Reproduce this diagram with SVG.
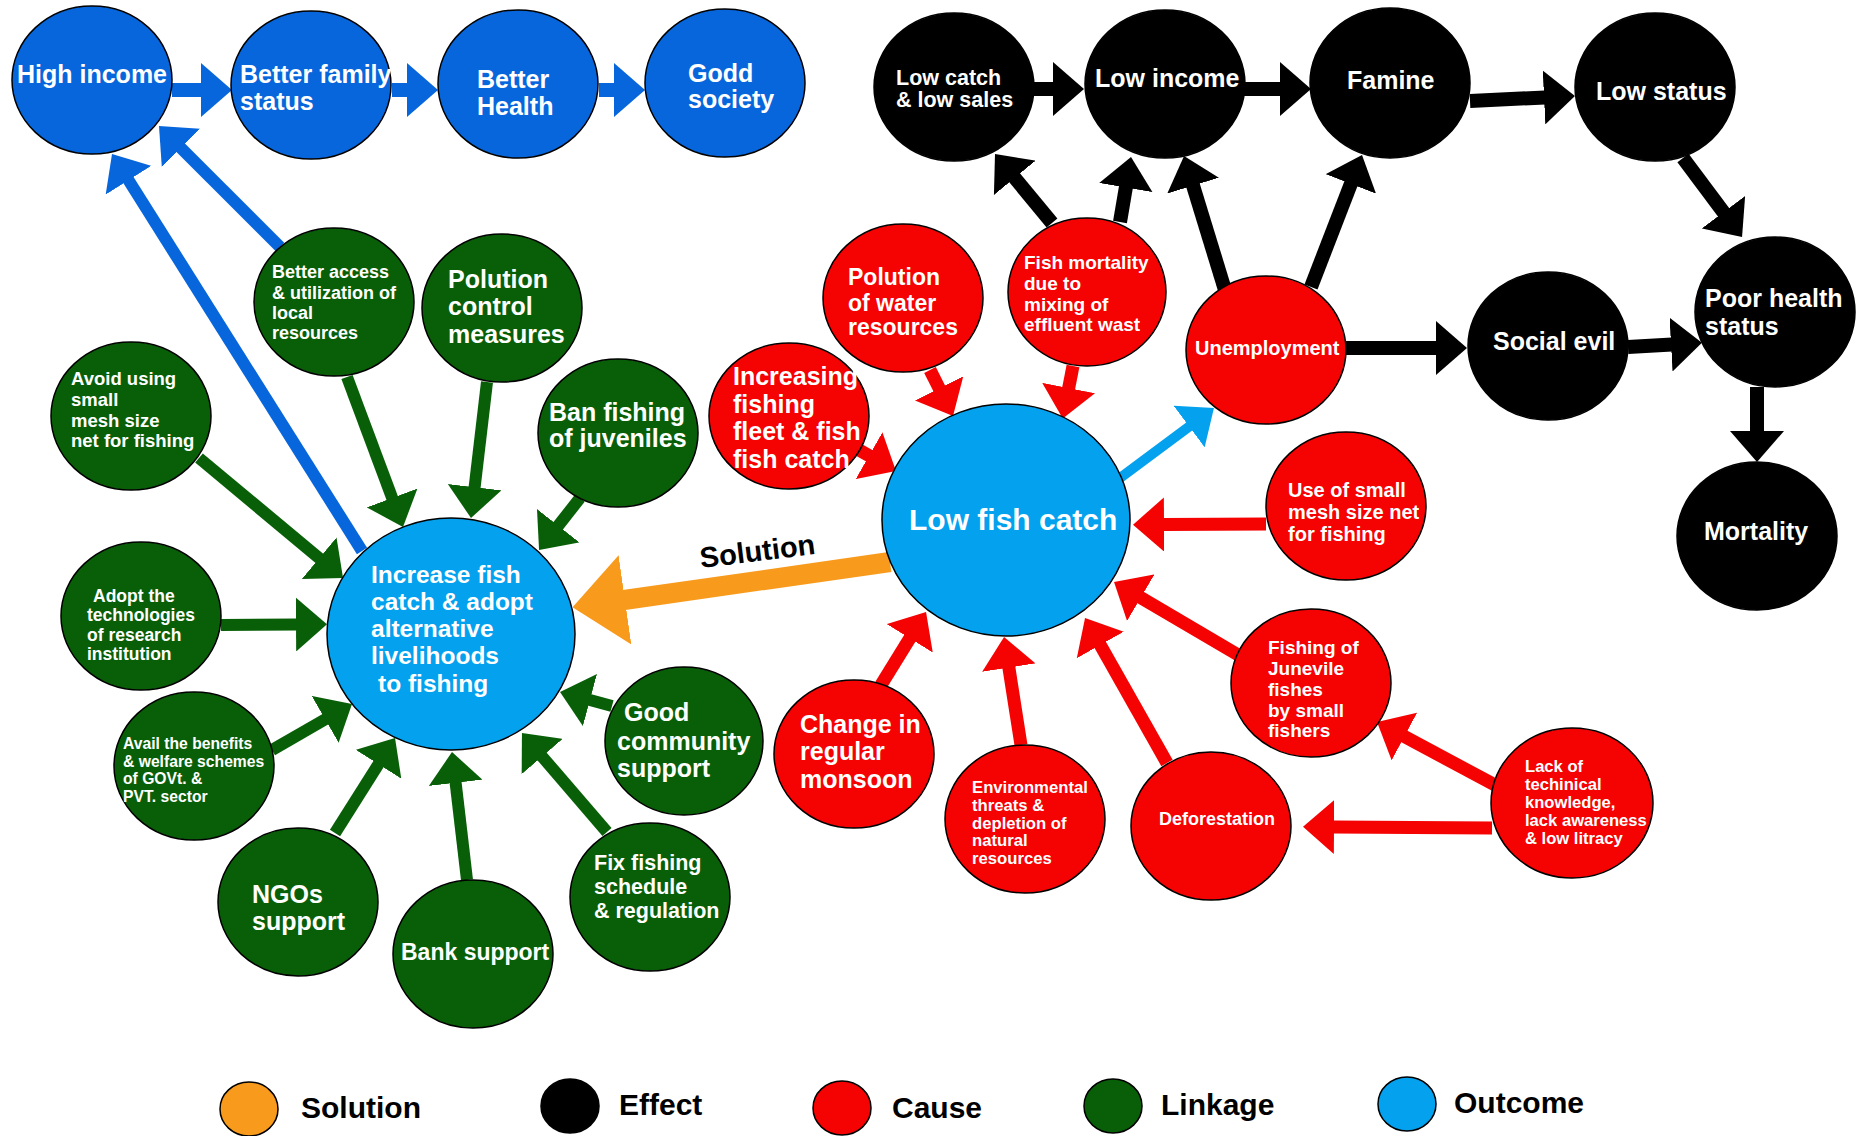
<svg xmlns="http://www.w3.org/2000/svg" width="1860" height="1136" viewBox="0 0 1860 1136">
<style>
.n{stroke:#000;stroke-width:1.5}
.db{fill:#0866dc}.lb{fill:#04a1ee}.gr{fill:#085f08}.rd{fill:#f50202}.bk{fill:#000}.or{fill:#f89a1c}
text{font-family:"Liberation Sans",Arial,Helvetica,sans-serif;font-weight:bold;fill:#fff}
.lg{fill:#000;font-size:30px}
.s25{font-size:25px}.s24{font-size:24.5px}.s23{font-size:23px}.s21{font-size:21.5px}.s20{font-size:20px}.s19{font-size:19px}.s18{font-size:18px}.s17{font-size:17px}.s16{font-size:15.7px}
.c{fill:none;stroke-linecap:butt}
.cdb{stroke:#0866dc;marker-end:url(#mdb)}
.cbk{stroke:#000;stroke-width:14;marker-end:url(#mbk)}
.crd{stroke:#f50202;stroke-width:13;marker-end:url(#mrd)}
.cgr{stroke:#085f08;stroke-width:12;marker-end:url(#mgr)}
.clb{stroke:#04a1ee;stroke-width:10;marker-end:url(#mlb)}
.cor{stroke:#f89a1c;stroke-width:20;marker-end:url(#mor)}
</style>
<defs>
<marker id="mdb" markerUnits="userSpaceOnUse" markerWidth="31" markerHeight="54" viewBox="0 0 31 54" refX="1" refY="27" orient="auto"><path d="M0,0 L31,27 L0,54 z" fill="#0866dc"/></marker>
<marker id="mbk" markerUnits="userSpaceOnUse" markerWidth="31" markerHeight="54" viewBox="0 0 31 54" refX="1" refY="27" orient="auto"><path d="M0,0 L31,27 L0,54 z" fill="#000"/></marker>
<marker id="mrd" markerUnits="userSpaceOnUse" markerWidth="31" markerHeight="54" viewBox="0 0 31 54" refX="1" refY="27" orient="auto"><path d="M0,0 L31,27 L0,54 z" fill="#f50202"/></marker>
<marker id="mgr" markerUnits="userSpaceOnUse" markerWidth="31" markerHeight="54" viewBox="0 0 31 54" refX="1" refY="27" orient="auto"><path d="M0,0 L31,27 L0,54 z" fill="#085f08"/></marker>
<marker id="mlb" markerUnits="userSpaceOnUse" markerWidth="31" markerHeight="52" viewBox="0 0 31 52" refX="1" refY="26" orient="auto"><path d="M0,0 L31,26 L0,52 z" fill="#04a1ee"/></marker>
<marker id="mor" markerUnits="userSpaceOnUse" markerWidth="53" markerHeight="90" viewBox="0 0 53 90" refX="1" refY="45" orient="auto"><path d="M0,0 L53,45 L0,90 z" fill="#f89a1c"/></marker>
</defs>
<rect width="1860" height="1136" fill="#fff"/>

<g id="connectors">
<path class="c cdb" stroke-width="14" d="M172,90 L202,90"/>
<path class="c cdb" stroke-width="14" d="M392,90 L408,90"/>
<path class="c cdb" stroke-width="14" d="M599,90 L615,90"/>
<path class="c cdb" stroke-width="12" d="M362,551 L128,179.4"/>
<path class="c cdb" stroke-width="12" d="M280,247 L180.2,147.2"/>
<path class="c cbk" d="M1034,89 L1054,89"/>
<path class="c cbk" d="M1244,89 L1281,89"/>
<path class="c cbk" d="M1470,101 L1545,97.4"/>
<path class="c cbk" d="M1683,158 L1724.1,213"/>
<path class="c cbk" d="M1757,387 L1757,432"/>
<path class="c cbk" d="M1628,347 L1672,344.5"/>
<path class="c cbk" d="M1346,348 L1437,348"/>
<path class="c cbk" d="M1225,290 L1192.8,184.7"/>
<path class="c cbk" d="M1311,287 L1351.2,183"/>
<path class="c cbk" d="M1052,223 L1014.1,177.1"/>
<path class="c cbk" d="M1120,222 L1126,186.6"/>
<path class="c crd" d="M930,370 L939.6,389.2"/>
<path class="c crd" d="M1073,366 L1068.5,389"/>
<path class="c crd" d="M852,446 L869.9,456.2"/>
<path class="c crd" d="M1266,524 L1163,524.5"/>
<path class="c crd" d="M1240,656 L1139.9,597.2"/>
<path class="c crd" d="M1495,785 L1403.5,736.1"/>
<path class="c crd" d="M1492,828 L1333,827"/>
<path class="c crd" d="M881,685 L910.3,637.5"/>
<path class="c crd" d="M1021,745 L1008.7,666.6"/>
<path class="c crd" d="M1167,763 L1099.8,644.1"/>
<path class="c clb" d="M1120,478 L1189.9,425.9"/>
<path class="c cor" d="M890,562 L624,600"/>
<path class="c cgr" d="M347,377 L392.5,498.9"/>
<path class="c cgr" d="M487,382 L474.5,488.2"/>
<path class="c cgr" d="M580,498 L557.6,526.5"/>
<path class="c cgr" d="M199,458 L320,558.8"/>
<path class="c cgr" d="M221,625 L297,624.5"/>
<path class="c cgr" d="M272,750 L326,718.9"/>
<path class="c cgr" d="M335,833 L379,763.4"/>
<path class="c cgr" d="M467,880 L455.5,781.8"/>
<path class="c cgr" d="M607,832 L541.5,755.8"/>
<path class="c cgr" d="M612,706 L589,699.8"/>
<text x="701" y="568" transform="rotate(-7 701 568)" style="fill:#000;font-size:29px">Solution</text>
</g>

<g id="high-income"><ellipse class="n db" cx="92" cy="80" rx="80" ry="74"/><text class="s25" x="17" y="83">High income</text></g>
<g id="better-family-status"><ellipse class="n db" cx="311" cy="85" rx="80" ry="74"/><text class="s25" x="240" y="83">Better family</text><text class="s25" x="240" y="110">status</text></g>
<g id="better-health"><ellipse class="n db" cx="518" cy="84" rx="80" ry="74"/><text class="s25" x="477" y="88">Better</text><text class="s25" x="477" y="115">Health</text></g>
<g id="godd-society"><ellipse class="n db" cx="725" cy="83" rx="80" ry="74"/><text class="s25" x="688" y="82">Godd</text><text class="s25" x="688" y="108">society</text></g>

<g id="low-catch"><ellipse class="n bk" cx="954" cy="87" rx="80" ry="74"/><text class="s21" x="896" y="85">Low catch</text><text class="s21" x="896" y="107">&amp; low sales</text></g>
<g id="low-income"><ellipse class="n bk" cx="1165" cy="84" rx="80" ry="74"/><text class="s25" x="1095" y="87">Low income</text></g>
<g id="famine"><ellipse class="n bk" cx="1390" cy="83" rx="80" ry="75"/><text class="s25" x="1347" y="89">Famine</text></g>
<g id="low-status"><ellipse class="n bk" cx="1655" cy="87" rx="80" ry="74"/><text class="s25" x="1596" y="100">Low status</text></g>
<g id="poor-health"><ellipse class="n bk" cx="1775" cy="312" rx="80" ry="75"/><text class="s25" x="1705" y="307">Poor health</text><text class="s25" x="1705" y="335">status</text></g>
<g id="social-evil"><ellipse class="n bk" cx="1548" cy="346" rx="80" ry="74"/><text class="s25" x="1493" y="350">Social evil</text></g>
<g id="mortality"><ellipse class="n bk" cx="1757" cy="536" rx="80" ry="74"/><text class="s25" x="1704" y="540">Mortality</text></g>

<g id="polution-water"><ellipse class="n rd" cx="903" cy="298" rx="80" ry="74"/><text class="s23" x="848" y="285">Polution</text><text class="s23" x="848" y="311">of water</text><text class="s23" x="848" y="335">resources</text></g>
<g id="fish-mortality"><ellipse class="n rd" cx="1087" cy="292" rx="79" ry="74"/><text class="s19" x="1024" y="269">Fish mortality</text><text class="s19" x="1024" y="290">due to</text><text class="s19" x="1024" y="311">mixing of</text><text class="s19" x="1024" y="331">effluent wast</text></g>
<g id="unemployment"><ellipse class="n rd" cx="1266" cy="350" rx="80" ry="74"/><text class="s20" x="1195" y="355">Unemployment</text></g>
<g id="increasing-fleet"><ellipse class="n rd" cx="789" cy="416" rx="80" ry="73"/><text class="s25" x="733" y="385">Increasing</text><text class="s25" x="733" y="413">fishing</text><text class="s25" x="733" y="440">fleet &amp; fish</text><text class="s25" x="733" y="468">fish catch</text></g>
<g id="small-mesh"><ellipse class="n rd" cx="1346" cy="506" rx="80" ry="74"/><text class="s20" x="1288" y="497">Use of small</text><text class="s20" x="1288" y="519">mesh size net</text><text class="s20" x="1288" y="541">for fishing</text></g>
<g id="junevile"><ellipse class="n rd" cx="1311" cy="683" rx="80" ry="74"/><text class="s19" x="1268" y="654">Fishing of</text><text class="s19" x="1268" y="675">Junevile</text><text class="s19" x="1268" y="696">fishes</text><text class="s19" x="1268" y="717">by small</text><text class="s19" x="1268" y="737">fishers</text></g>
<g id="monsoon"><ellipse class="n rd" cx="854" cy="754" rx="80" ry="74"/><text class="s25" x="800" y="733">Change in</text><text class="s25" x="800" y="760">regular</text><text class="s25" x="800" y="788">monsoon</text></g>
<g id="environmental"><ellipse class="n rd" cx="1025" cy="819" rx="80" ry="74"/><text style="font-size:16.7px" x="972" y="793">Environmental</text><text style="font-size:16.7px" x="972" y="811">threats &amp;</text><text style="font-size:16.7px" x="972" y="829">depletion of</text><text style="font-size:16.7px" x="972" y="846">natural</text><text style="font-size:16.7px" x="972" y="864">resources</text></g>
<g id="deforestation"><ellipse class="n rd" cx="1211" cy="826" rx="80" ry="74"/><text class="s18" x="1159" y="825">Deforestation</text></g>
<g id="lack-knowledge"><ellipse class="n rd" cx="1572" cy="803" rx="81" ry="75"/><text style="font-size:16.6px" x="1525" y="772">Lack of</text><text style="font-size:16.6px" x="1525" y="790">techinical</text><text style="font-size:16.6px" x="1525" y="808">knowledge,</text><text style="font-size:16.6px" x="1525" y="826">lack awareness</text><text style="font-size:16.6px" x="1525" y="844">&amp; low litracy</text></g>

<g id="low-fish-catch"><ellipse class="n lb" cx="1006" cy="520" rx="124" ry="116"/><text style="font-size:30px" x="909" y="530">Low fish catch</text></g>

<g id="better-access"><ellipse class="n gr" cx="334" cy="302" rx="80" ry="74"/><text class="s18" x="272" y="278">Better access</text><text class="s18" x="272" y="299">&amp; utilization of</text><text class="s18" x="272" y="319">local</text><text class="s18" x="272" y="339">resources</text></g>
<g id="polution-control"><ellipse class="n gr" cx="502" cy="308" rx="80" ry="74"/><text class="s25" x="448" y="288">Polution</text><text class="s25" x="448" y="315">control</text><text class="s25" x="448" y="343">measures</text></g>
<g id="avoid-small-mesh"><ellipse class="n gr" cx="131" cy="416" rx="80" ry="74"/><text style="font-size:18.5px" x="71" y="385">Avoid using</text><text style="font-size:18.5px" x="71" y="406">small</text><text style="font-size:18.5px" x="71" y="427">mesh size</text><text style="font-size:18.5px" x="71" y="447">net for fishing</text></g>
<g id="ban-fishing"><ellipse class="n gr" cx="618" cy="433" rx="80" ry="74"/><text class="s25" x="549" y="421">Ban fishing</text><text class="s25" x="549" y="447">of juveniles</text></g>
<g id="adopt-tech"><ellipse class="n gr" cx="141" cy="616" rx="80" ry="74"/><text style="font-size:17.5px" x="93" y="602">Adopt the</text><text style="font-size:17.5px" x="87" y="621">technologies</text><text style="font-size:17.5px" x="87" y="641">of research</text><text style="font-size:17.5px" x="87" y="660">institution</text></g>
<g id="avail-benefits"><ellipse class="n gr" cx="194" cy="766" rx="80" ry="74"/><text class="s16" x="123" y="749">Avail the benefits</text><text class="s16" x="123" y="767">&amp; welfare schemes</text><text class="s16" x="123" y="784">of GOVt. &amp;</text><text class="s16" x="123" y="802">PVT. sector</text></g>
<g id="ngos"><ellipse class="n gr" cx="298" cy="902" rx="80" ry="74"/><text class="s25" x="252" y="903">NGOs</text><text class="s25" x="252" y="930">support</text></g>
<g id="bank"><ellipse class="n gr" cx="473" cy="954" rx="80" ry="74"/><text class="s23" x="401" y="960">Bank support</text></g>
<g id="fix-fishing"><ellipse class="n gr" cx="650" cy="897" rx="80" ry="74"/><text class="s21" x="594" y="870">Fix fishing</text><text class="s21" x="594" y="894">schedule</text><text class="s21" x="594" y="918">&amp; regulation</text></g>
<g id="good-community"><ellipse class="n gr" cx="684" cy="741" rx="79" ry="74"/><text class="s25" x="624" y="721">Good</text><text class="s25" x="617" y="750">community</text><text class="s25" x="617" y="777">support</text></g>

<g id="increase-fish-catch"><ellipse class="n lb" cx="451" cy="634" rx="124" ry="116"/><text class="s24" x="371" y="583">Increase fish</text><text class="s24" x="371" y="610">catch &amp; adopt</text><text class="s24" x="371" y="637">alternative</text><text class="s24" x="371" y="664">livelihoods</text><text class="s24" x="378" y="692">to fishing</text></g>

<g id="legend">
<ellipse class="n or" cx="249" cy="1109" rx="29" ry="27"/><text class="lg" x="301" y="1118">Solution</text>
<ellipse class="n bk" cx="570" cy="1106" rx="29" ry="27"/><text class="lg" x="619" y="1115">Effect</text>
<ellipse class="n rd" cx="842" cy="1108" rx="29" ry="27"/><text class="lg" x="892" y="1118">Cause</text>
<ellipse class="n gr" cx="1113" cy="1106" rx="29" ry="27"/><text class="lg" x="1161" y="1115">Linkage</text>
<ellipse class="n lb" cx="1407" cy="1104" rx="29" ry="27"/><text class="lg" x="1454" y="1113">Outcome</text>
</g>
</svg>
